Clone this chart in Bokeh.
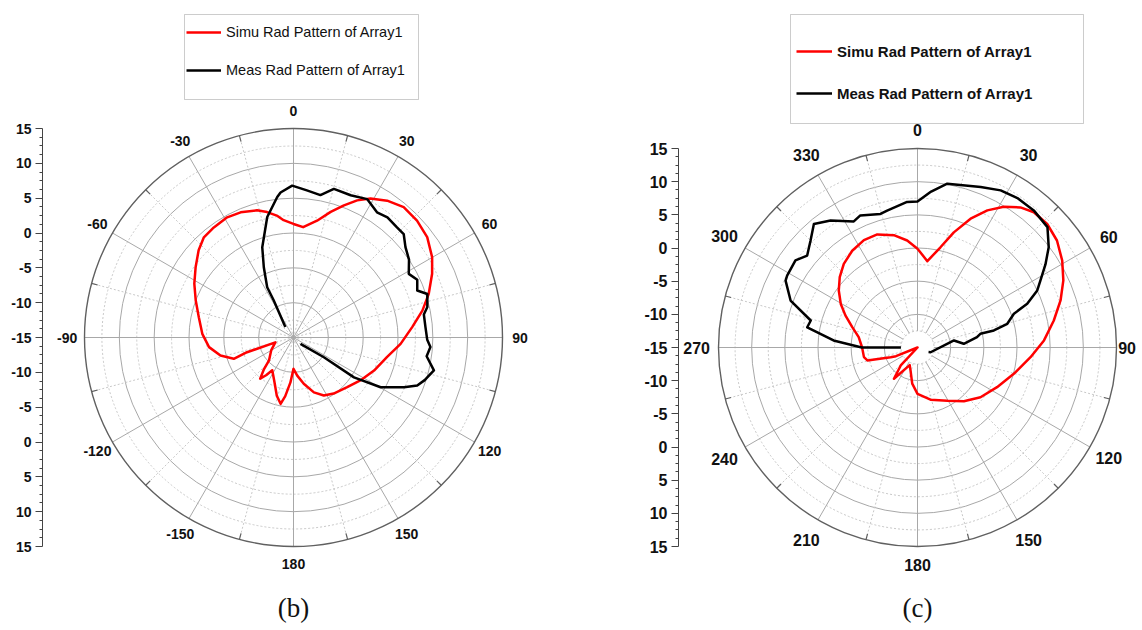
import numpy as np
from bokeh.plotting import figure
from bokeh.layouts import row
from bokeh.models import (Range1d, LinearAxis, FixedTicker, CustomJSTickFormatter,
                          Legend, LegendItem, BoxAnnotation, Label)
from bokeh.core.properties import value
from bokeh.embed import file_html
from bokeh.resources import INLINE

# ---------------- data: panel (b) ----------------
b_simu_ang = [0, 5, 11.4, 16.5, 20.9, 24.9, 29, 34.4, 40.2, 46.6, 53.1, 59.9, 65.3, 72.1, 78.2,
              85, 93.4, 101.9, 112.3, 122.7, 132.8, 144.4, 152.4, 159.6, 167.5, 174.4, 180,
              184, 188, 191, 196, 204, 213, 216, 219, 223, 227, 240, 255, 252.4, 250.4, 256.1,
              263.5, 272.3, 282.1, 290.7, 298.5, 305.7, 312.6, 318.2, 324.1, 331.1, 337.1, 344,
              348.1, 352.5, 355.2, 360]
b_simu_db = [1.3, 0.9, 2.1, 3.8, 5.3, 6.7, 7.8, 8.8, 9.5, 9.4, 9.0, 8.0, 6.9, 5.4, 3.9, 2.1, 0.4,
             -1.3, -2.5, -3.6, -4.5, -5.1, -5.6, -6.6, -8.2, -9.5, -10.5, -8.5, -6.5, -5.3,
             -6.3, -8.2, -9.4, -8.3, -7.4, -8.8, -10.2, -11.3, -12.3, -8.0, -5.9, -4.2, -2.8,
             -1.9, -1.1, 0.0, 1.2, 2.3, 3.5, 4.3, 4.5, 4.7, 4.5, 4.0, 3.4, 2.6, 1.9, 1.3]
b_meas_ang = [-38, -28, -27.6, -25, -22.9, -19.1, -12.3, -6.6, -5.1, -0.5, 5.2, 10.7, 15.2, 21.9,
              28, 33.7, 38, 43.2, 46.8, 51.1, 56, 61.1, 65, 69.2, 72, 77.2, 80, 85.5, 91, 94, 98,
              103.2, 108, 111.2, 114.2, 119.7, 123.4, 123, 132]
b_meas_db = [-13.1, -8.9, -6.85, -5.5, -4.05, -1.3, 2.7, 5.3, 5.9, 6.8, 6.2, 5.8, 7.1, 7.0, 7.5,
             6.6, 6.9, 6.7, 6.7, 5.65, 5.0, 3.9, 4.6, 4.0, 5.2, 4.7, 4.0, 4.0, 4.2, 4.7, 4.3, 5.7,
             4.8, 4.05, 2.4, -0.6, -4.6, -9.8, -13.65]
b_angle_ticks = [0, 30, 60, 90, 120, 150, 180, -150, -120, -90, -60, -30]
b_angle_labels = ["0", "30", "60", "90", "120", "150", "180", "-150", "-120", "-90", "-60", "-30"]

# ---------------- data: panel (c) ----------------
c_simu_ang = [0, 6.5, 12.9, 17.5, 22.4, 27, 31.5, 36.3, 40.7, 46.4, 52.5, 59, 65.3, 71.8, 78.8,
              86.8, 94.9, 105.3, 116.5, 128.3, 139.2, 150.7, 166, 180, 188.3, 197, 204, 217,
              223, 240, 248, 250.2, 255.5, 259.8, 270, 280, 287.3, 294, 299.6, 305.9, 312.1,
              318.6, 326, 333.5, 340.4, 348.1, 354.5, 360]
c_simu_db = [-0.1, -1.9, 0.5, 3.2, 6.0, 8.2, 9.9, 11.2, 11.9, 12.0, 11.5, 10.45, 9.2, 7.7, 5.95,
             4.1, 2.1, 0.05, -1.6, -2.9, -4.3, -5.8, -6.9, -8.0, -9.5, -11.4, -12.1, -9.1,
             -11.3, -15.0, -11.5, -10.7, -7.2, -6.8, -6.65, -6.0, -4.7, -3.1, -1.7, -0.35, 0.8,
             1.8, 2.6, 3.1, 3.1, 2.3, 1.2, -0.1]
c_meas_ang = [-90, -90, -85.2, -79.6, -75.8, -69.7, -63.1, -61.1, -54.5, -50.2, -45, -40,
              -34.4, -26.8, -23.4, -15.5, -12.5, -4.1, 0, 5, 10.3, 21.5, 27.9, 34, 40.3, 47.2,
              52.6, 57, 61.4, 64.5, 68.3, 70.7, 75.2, 77.4, 77.7, 80.2, 85.4, 79.1, 82.9, 109.9,
              112.4]
c_meas_db = [-12.5, -6.6, -2.3, 1.9, 1.6, 5.4, 7.3, 7.45, 7.6, 6.65, 7.8, 9.3, 8.2, 6.3, 6.7,
             5.9, 6.15, 7.0, 7.0, 8.6, 10.1, 11.0, 11.8, 12.1, 12.1, 11.7, 9.9, 8.0, 6.1, 5.0,
             2.8, 0.4, -1.0, -3.2, -5.3, -5.9, -8.0, -9.4, -10.5, -12.9, -13.2]
c_angle_ticks = [0, 30, 60, 90, 120, 150, 180, 210, 240, 270, 300, 330]
c_angle_labels = ["0", "30", "60", "90", "120", "150", "180", "210", "240", "270", "300", "330"]

# radial scale (dB)
db_min, db_max = -15, 15
ring_major_db = [-10, -5, 0, 5, 10]
ring_minor_db = [-12.5, -7.5, -2.5, 2.5, 7.5, 12.5]
scale_major = list(range(-30, 31, 5))
scale_minor = [v * 1.25 for v in range(-24, 25) if v % 4 != 0]

legend_labels = ["Simu Rad Pattern of Array1", "Meas Rad Pattern of Array1"]
RED = "#ff0000"
FONT = "Liberation Sans"


def polar(ang, db):
    r = np.clip(np.asarray(db, dtype=float) - db_min, 0, None)
    t = np.radians(np.asarray(ang, dtype=float))
    return r * np.sin(t), r * np.cos(t)


def make_panel(width, border_left, xr, yr, spoke_r0, label_r, lab_font_size,
               angle_ticks, angle_labels, simu, meas, leg_loc, leg_spacing, leg_font,
               leg_style, leg_glyph_w, box, caption, cap_y):
    p = figure(width=width, height=630, x_range=Range1d(*xr), y_range=Range1d(*yr),
               output_backend="svg", toolbar_location=None,
               x_axis_location=None, y_axis_location=None,
               min_border_left=border_left, min_border_right=0,
               min_border_top=0, min_border_bottom=0)
    p.outline_line_color = None
    p.grid.visible = False

    R = db_max - db_min
    # rings
    p.circle(x=[0] * len(ring_minor_db), y=[0] * len(ring_minor_db),
             radius=[d - db_min for d in ring_minor_db], fill_color=None,
             line_color="#c8c8c8", line_dash="2 2", line_width=1)
    p.circle(x=[0] * len(ring_major_db), y=[0] * len(ring_major_db),
             radius=[d - db_min for d in ring_major_db], fill_color=None,
             line_color="#a8a8a8", line_width=1)
    # spokes
    maj = np.radians(np.arange(0, 360, 30))
    mnr = np.radians(np.arange(15, 360, 30))
    p.segment(x0=spoke_r0 * np.sin(mnr), y0=spoke_r0 * np.cos(mnr),
              x1=R * np.sin(mnr), y1=R * np.cos(mnr),
              line_color="#c8c8c8", line_dash="2 2", line_width=1)
    p.segment(x0=spoke_r0 * np.sin(maj), y0=spoke_r0 * np.cos(maj),
              x1=R * np.sin(maj), y1=R * np.cos(maj),
              line_color="#a8a8a8", line_width=1)
    # outer circle + small ticks
    p.circle(x=[0], y=[0], radius=[R], fill_color=None, line_color="#606060", line_width=1.4)
    p.segment(x0=(R - 0.9) * np.sin(mnr), y0=(R - 0.9) * np.cos(mnr),
              x1=R * np.sin(mnr), y1=R * np.cos(mnr), line_color="#606060", line_width=1.2)

    # angle labels
    lt = np.radians(np.asarray(angle_ticks, dtype=float))
    lr = np.asarray(label_r, dtype=float)
    p.text(x=lr * np.sin(lt), y=lr * np.cos(lt), text=angle_labels,
           text_align="center", text_baseline="middle", text_font=value(FONT),
           text_font_style="bold", text_font_size=lab_font_size, text_color="#111111")

    # curves
    sx, sy = polar(*simu)
    mx, my = polar(*meas)
    rs = p.line(sx, sy, line_color=RED, line_width=2.5, line_join="round")
    rm = p.line(mx, my, line_color="#000000", line_width=2.5, line_join="round")

    # left dB scale
    ax = LinearAxis(ticker=FixedTicker(ticks=scale_major, minor_ticks=scale_minor),
                    formatter=CustomJSTickFormatter(code="return String(Math.abs(tick) - 15);"),
                    bounds=(-R, R))
    ax.major_label_text_font = FONT
    ax.major_label_text_font_style = "bold"
    ax.major_label_text_font_size = lab_font_size
    ax.major_label_text_color = "#111111"
    ax.major_tick_out = 7
    ax.major_tick_in = 0
    ax.minor_tick_out = 3
    ax.minor_tick_in = 0
    ax.major_label_standoff = 4
    ax.axis_line_color = "#444444"
    ax.major_tick_line_color = "#444444"
    ax.minor_tick_line_color = "#444444"
    p.add_layout(ax, "left")

    # legend
    leg = Legend(items=[LegendItem(label=legend_labels[0], renderers=[rs]),
                        LegendItem(label=legend_labels[1], renderers=[rm])],
                 location=leg_loc, padding=4, spacing=leg_spacing, margin=0,
                 label_height=20, glyph_height=20, glyph_width=leg_glyph_w,
                 label_standoff=5, border_line_color=None, background_fill_alpha=0,
                 label_text_font=FONT, label_text_font_size=leg_font,
                 label_text_font_style=leg_style, label_text_color="#111111")
    p.add_layout(leg, "center")
    p.add_layout(BoxAnnotation(left=box[0], right=box[1], top=box[2], bottom=box[3],
                               fill_alpha=0, line_color="#555555", line_width=1))

    p.add_layout(Label(x=0, y=cap_y, text=caption, text_align="center",
                       text_baseline="middle", text_font="Liberation Serif",
                       text_font_size="27px", text_color="#111111"))
    return p


sb = 209 / 30.0
pb = make_panel(600, 42, (-(293 - 42) / sb, (600 - 293) / sb), (-(630 - 337) / sb, 337 / sb),
                0.0, [32.5] * 12, "14px", b_angle_ticks, b_angle_labels,
                (b_simu_ang, b_simu_db), (b_meas_ang, b_meas_db),
                (144, 550), 18, "14.5px", "normal", 35,
                ((184 - 293) / sb, (418 - 293) / sb, (337 - 14) / sb, (337 - 99) / sb),
                "(b)", -(607 - 337) / sb)

sc = 199 / 30.0
c_label_r = [32.8, 33.5, 33.3, 31.6, 33.3, 33.5, 32.8, 33.5, 33.6, 33.3, 33.6, 33.5]
pc = make_panel(542, 78, (-(917 - 678) / sc, (1142 - 917) / sc), (-(630 - 347) / sc, 347 / sc),
                2.5, c_label_r, "16px", c_angle_ticks, c_angle_labels,
                (c_simu_ang, c_simu_db), (c_meas_ang, c_meas_db),
                (118, 527), 22, "15px", "bold", 36,
                ((790 - 917) / sc, (1083 - 917) / sc, (347 - 14) / sc, (347 - 123) / sc),
                "(c)", -(607 - 347) / sc)

layout = row(pb, pc, spacing=0)
open("out.html", "w").write(file_html(layout, INLINE))
